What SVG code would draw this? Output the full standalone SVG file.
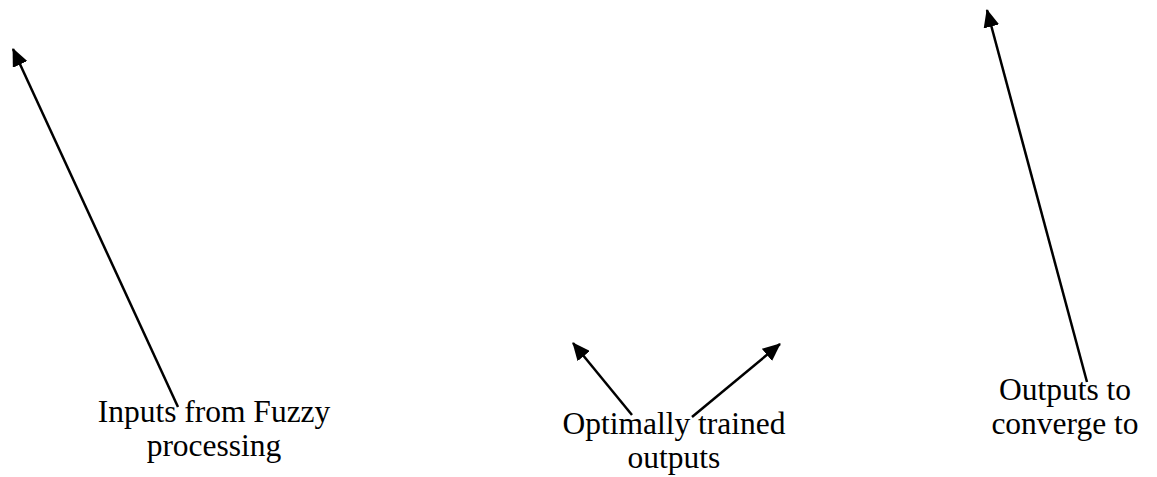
<svg xmlns="http://www.w3.org/2000/svg" width="1157" height="477" viewBox="0 0 1157 477">
  <style>
    .lbl { font-family: "Liberation Serif", "Times New Roman", serif; font-size: 31.5px; fill: #000; text-anchor: middle; }
    .conn { stroke: #000; stroke-width: 2.5; fill: none; marker-end: url(#head); }
  </style>
  <defs>
    <marker id="head" markerUnits="userSpaceOnUse" markerWidth="18" markerHeight="16" viewBox="0 0 18 16" refX="17" refY="8" orient="auto">
      <path d="M0,0 L18,8 L0,16 Z" fill="#000"/>
    </marker>
  </defs>
  <rect width="1157" height="477" fill="#fff"/>

  <g id="connectors">
    <line class="conn" x1="178" y1="407" x2="13" y2="49"/>
    <line class="conn" x1="632" y1="415" x2="573" y2="343"/>
    <line class="conn" x1="692" y1="417" x2="780" y2="344"/>
    <line class="conn" x1="1087" y1="382" x2="987" y2="10"/>
  </g>

  <g id="fuzzy-inputs">
    <text class="lbl" x="214" y="422">Inputs from Fuzzy</text>
    <text class="lbl" x="214" y="456">processing</text>
  </g>

  <g id="trained-outputs">
    <text class="lbl" x="674" y="434">Optimally trained</text>
    <text class="lbl" x="674" y="468">outputs</text>
  </g>

  <g id="target-outputs">
    <text class="lbl" x="1065" y="400">Outputs to</text>
    <text class="lbl" x="1065" y="434">converge to</text>
  </g>
</svg>
